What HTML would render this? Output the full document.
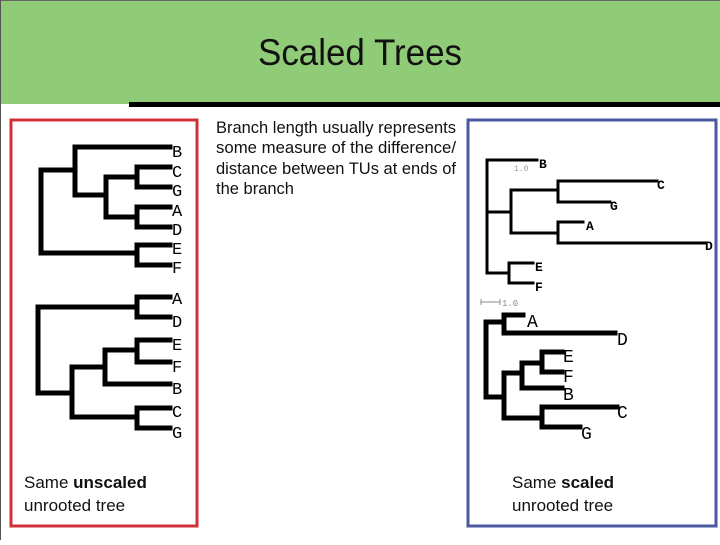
<!DOCTYPE html>
<html><head><meta charset="utf-8"><style>
html,body{margin:0;padding:0;background:#fff;}
body{width:720px;height:540px;overflow:hidden;position:relative;}
</style></head><body>
<svg width="720" height="540" viewBox="0 0 720 540" xmlns="http://www.w3.org/2000/svg">
<rect x="0" y="0" width="720" height="104" fill="#90cb78"/>
<line x1="0" y1="0.5" x2="720" y2="0.5" stroke="#666" stroke-width="1"/>
<line x1="0.5" y1="0" x2="0.5" y2="540" stroke="#555" stroke-width="1"/>
<rect x="129" y="102" width="591" height="5" fill="#000"/>
<text x="360" y="65" text-anchor="middle" font-family="Liberation Sans, sans-serif" font-size="37" textLength="204" lengthAdjust="spacingAndGlyphs" fill="#111">Scaled Trees</text>

<rect x="11" y="120" width="186" height="406" fill="none" stroke="#d0303a" stroke-width="3"/>
<rect x="468" y="120" width="248" height="406" fill="none" stroke="#4a5aa0" stroke-width="3"/>

<g font-family="Liberation Sans, sans-serif" font-size="16.5" fill="#111">
<text x="216" y="133" textLength="240" lengthAdjust="spacingAndGlyphs">Branch length usually represents</text>
<text x="216" y="153" textLength="240" lengthAdjust="spacingAndGlyphs">some measure of the difference/</text>
<text x="216" y="174" textLength="240" lengthAdjust="spacingAndGlyphs">distance between TUs at ends of</text>
<text x="216" y="194">the branch</text>
<text x="24" y="488" font-size="17">Same <tspan font-weight="bold">unscaled</tspan></text>
<text x="24" y="511" font-size="17">unrooted tree</text>
<text x="512" y="488" font-size="17">Same <tspan font-weight="bold">scaled</tspan></text>
<text x="512" y="511" font-size="17">unrooted tree</text>
</g>

<!-- left top tree -->
<g stroke="#000" stroke-width="5" fill="none" stroke-linecap="square">
<path d="M75 147H170 M137 167H170 M137 187H170 M137 207H170 M137 227H170 M137 245H170 M137 265H170"/>
<path d="M137 167V187 M137 207V227 M137 245V265"/>
<path d="M106 177H137 M106 217H137 M106 177V217"/>
<path d="M75 147V195H106"/>
<path d="M41 170H75 M41 170V253H137"/>
</g>
<g font-family="Liberation Mono, monospace" font-size="17" fill="#000">
<text x="172" y="157">B</text><text x="172" y="177">C</text><text x="172" y="196">G</text>
<text x="172" y="216">A</text><text x="172" y="235">D</text><text x="172" y="254">E</text><text x="172" y="273">F</text>
</g>

<!-- left bottom tree -->
<g stroke="#000" stroke-width="5" fill="none" stroke-linecap="square">
<path d="M137 297H170 M137 317H170 M137 297V317"/>
<path d="M137 340H170 M137 362H170 M137 340V362"/>
<path d="M105 350H137 M105 350V384H170"/>
<path d="M72 367H105 M72 367V417H137"/>
<path d="M137 408H170 M137 428H170 M137 408V428"/>
<path d="M38 307H137 M38 307V393H72"/>
</g>
<g font-family="Liberation Mono, monospace" font-size="17" fill="#000">
<text x="172" y="304">A</text><text x="172" y="327">D</text><text x="172" y="350">E</text>
<text x="172" y="372">F</text><text x="172" y="394">B</text><text x="172" y="417">C</text><text x="172" y="438">G</text>
</g>

<!-- right top tree (thin) -->
<g stroke="#000" stroke-width="3" fill="none" stroke-linecap="square">
<path d="M487 160H537 M487 160V273H509"/>
<path d="M487 212H511 M511 190V233"/>
<path d="M511 190H558 M558 181V202 M558 181H657 M558 202H610"/>
<path d="M511 233H558 M558 222V243 M558 222H583 M558 243H705"/>
<path d="M509 263V283 M509 263H533 M509 283H533"/>
</g>
<g font-family="Liberation Mono, monospace" font-size="13" font-weight="bold" fill="#000">
<text x="539" y="168">B</text><text x="657" y="189">C</text><text x="610" y="210">G</text>
<text x="586" y="230">A</text><text x="705" y="250">D</text><text x="535" y="271">E</text><text x="535" y="291">F</text>
</g>
<text x="514" y="171" font-family="Liberation Mono, monospace" font-size="8" fill="#999">1.0</text>
<path d="M481 299V305 M481 302H500 M500 299V305" stroke="#888" stroke-width="1" fill="none"/>
<text x="502" y="306" font-family="Liberation Mono, monospace" font-size="9" fill="#888">1.0</text>

<!-- right bottom tree (thick) -->
<g stroke="#000" stroke-width="5" fill="none" stroke-linecap="square">
<path d="M486 322V397 M486 322H504 M504 315V333 M504 315H523 M504 333H615"/>
<path d="M486 397H504 M504 373V418"/>
<path d="M504 373H522 M522 363V388 M522 388H562 M522 363H542 M542 352V372 M542 352H562 M542 372H562"/>
<path d="M504 418H542 M542 407V427 M542 407H617 M542 427H580"/>
</g>
<g font-family="Liberation Mono, monospace" font-size="18" fill="#000">
<text x="527" y="327">A</text><text x="617" y="345">D</text><text x="563" y="362">E</text>
<text x="563" y="382">F</text><text x="563" y="400">B</text><text x="617" y="418">C</text><text x="581" y="439">G</text>
</g>
</svg>
</body></html>
